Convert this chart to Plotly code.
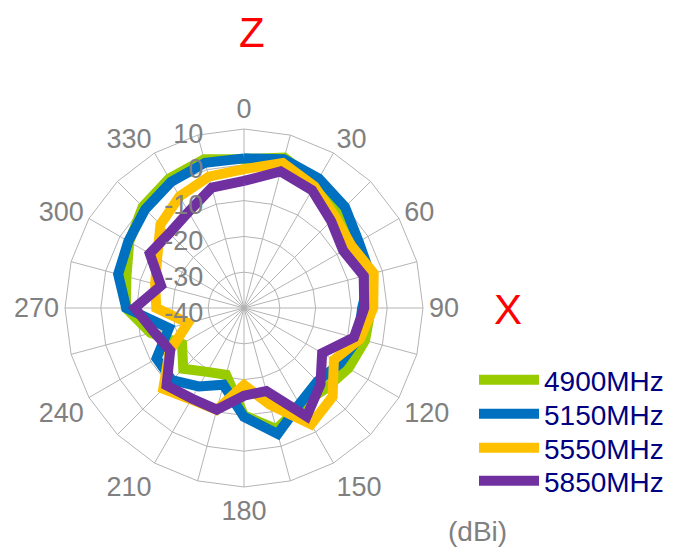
import plotly.graph_objects as go

angles = [0, 15, 30, 45, 60, 75, 90, 105, 120, 135, 150, 165,
          180, 195, 210, 225, 240, 255, 270, 285, 300, 315, 330, 345]
angle_labels = ["0", "", "30", "", "60", "", "90", "", "120", "", "150", "",
                "180", "", "210", "", "240", "", "270", "", "300", "", "330", ""]

series_names = ["4900MHz", "5150MHz", "5550MHz", "5850MHz"]
gain_4900 = [1.6, 3.5, 0.5, -1.5, -4.0, -4.0, -4.5, -5.0, -6.3, -8.0, -8.5, -5.0,
             -10.0, -20.7, -19.4, -16.0, -20.0, -13.0, -7.0, -6.0, -3.0, 0.0, 1.8, 3.0]
gain_5150 = [1.8, 3.0, 1.8, -0.1, -3.0, -3.5, -7.0, -7.0, -9.0, -11.0, -9.0, -3.6,
             -9.6, -17.8, -14.7, -11.5, -11.8, -18.3, -7.1, -3.6, -2.7, -1.0, 0.7, 2.0]
gain_5550 = [-1.2, 1.9, -0.7, -4.0, -5.3, -2.5, -3.9, -6.5, -11.0, -5.0, -2.5, -12.0,
             -18.5, -10.5, -10.5, -8.1, -16.0, -23.8, -15.5, -14.3, -12.0, -7.0, -4.0, -2.0]
gain_5850 = [-4.5, -0.5, -2.0, -5.6, -8.0, -5.4, -6.4, -8.2, -14.8, -9.8, -5.0, -16.0,
             -15.5, -10.6, -10.8, -9.4, -16.2, -14.0, -9.5, -16.0, -9.6, -10.5, -9.0, -5.2]
colors = ["#99CC00", "#0070C0", "#FFC000", "#7030A0"]

radial_ticks = [-40, -30, -20, -10, 0, 10]
radial_labels = ["-40", "-30", "-20", "-10", "0", "10"]

cats = [str(a) for a in angles]

# page body has an 8px margin: figure coordinates = page coordinates - 8
OFF = 8
W, H = 689 - OFF, 552 - OFF


def px(x):
    return (x - OFF) / W


def py(y):
    return 1 - (y - OFF) / H


legend_ids = ["legend", "legend2", "legend3", "legend4"]
legend_rows_y = [380, 414, 448, 481]

fig = go.Figure()
for name, vals, col, lid in zip(series_names, [gain_4900, gain_5150, gain_5550, gain_5850],
                                colors, legend_ids):
    fig.add_trace(go.Scatterpolar(
        r=vals + vals[:1], theta=cats + cats[:1], mode="lines", name=name,
        line=dict(color=col, width=10), legend=lid,
    ))

legend_layouts = {}
for lid, ly in zip(legend_ids, legend_rows_y):
    legend_layouts[lid] = dict(
        x=px(474), y=py(ly), xanchor="left", yanchor="middle",
        font=dict(size=28, color="#000080"), itemwidth=60,
        bgcolor="rgba(0,0,0,0)", borderwidth=0,
    )

cx, cy, R = 244, 308, 179
fig.update_layout(
    width=W, height=H,
    margin=dict(l=0, r=0, t=0, b=0, pad=0, autoexpand=False),
    paper_bgcolor="white", plot_bgcolor="white",
    font=dict(family="Liberation Sans, Arial, sans-serif", color="#808080", size=27),
    polar=dict(
        domain=dict(x=[px(cx - R), px(cx + R)], y=[py(cy + R), py(cy - R)]),
        bgcolor="white",
        gridshape="linear",
        angularaxis=dict(
            type="category", categoryarray=cats, rotation=90, direction="clockwise",
            tickmode="array", tickvals=cats, ticktext=angle_labels,
            showline=True, linecolor="#b4b4b4", linewidth=1,
            gridcolor="#b4b4b4", gridwidth=1, ticks="",
            tickfont=dict(size=27, color="#808080"),
        ),
        radialaxis=dict(
            range=[-40, 10], tickmode="array", tickvals=radial_ticks, ticktext=radial_labels,
            angle=90, side="counterclockwise", showline=False,
            gridcolor="#b4b4b4", gridwidth=1,
            ticks="outside", ticklen=16, tickcolor="rgba(0,0,0,0)",
            tickfont=dict(size=27, color="#808080"),
        ),
    ),
    showlegend=True,
    annotations=[
        dict(text="Z", x=px(252), y=py(33), xref="paper", yref="paper", showarrow=False,
             xanchor="center", yanchor="middle", font=dict(size=42, color="#FF0000")),
        dict(text="X", x=px(508), y=py(309), xref="paper", yref="paper", showarrow=False,
             xanchor="center", yanchor="middle", font=dict(size=42, color="#FF0000")),
        dict(text="(dBi)", x=px(477), y=py(531), xref="paper", yref="paper", showarrow=False,
             xanchor="center", yanchor="middle", font=dict(size=28, color="#808080")),
    ],
    **legend_layouts,
)

fig.write_html("out.html")
